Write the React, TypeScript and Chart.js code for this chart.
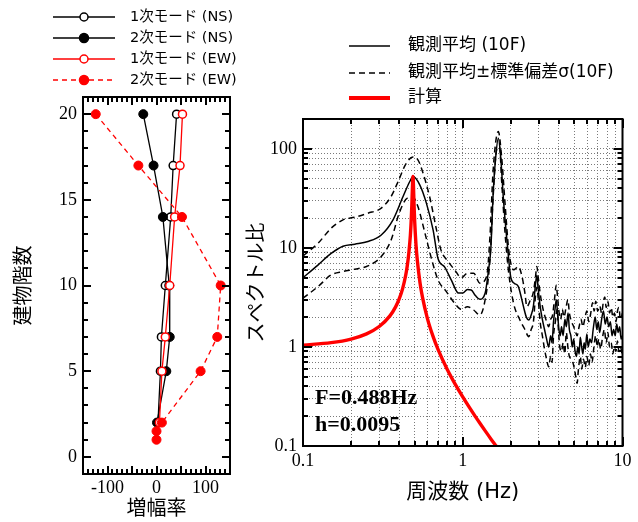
import React, { useEffect, useRef } from 'react';
import { Chart, registerables } from 'chart.js';
Chart.register(...registerables);

const SERIF = '"Liberation Serif", "Times New Roman", serif';
const SANS = '"DejaVu Sans", "Noto Sans CJK JP", sans-serif';
const RED = '#ff0000';

// ---------- left panel: mode shapes ----------
const floors = [20, 17, 14, 10, 7, 5, 2];
const floorsEw2 = [20, 17, 14, 10, 7, 5, 2, 1.5, 1];
const ns1 = [41, 34, 29, 18, 10, 8, 3];
const ns2 = [-27, -6, 13, 26, 27, 20, 1];
const ew1 = [53, 48, 37, 27, 18, 11, 6];
const ew2 = [-124, -37, 52, 131, 124, 90, 11, 0, 0];
const modeNames = ['1次モード (NS)', '2次モード (NS)', '1次モード (EW)', '2次モード (EW)'];
const ampTickLabels = [-100, 0, 100];
const floorTickLabels = [0, 5, 10, 15, 20];

// ---------- right panel: spectral ratio ----------
const meanF = [0.1, 0.124, 0.15, 0.178, 0.211, 0.255, 0.309, 0.366, 0.423, 0.466, 0.488, 0.538, 0.592, 0.652, 0.7, 0.771, 0.85, 0.94, 1.0, 1.07, 1.13, 1.2, 1.28, 1.38, 1.45, 1.5, 1.55, 1.6, 1.67, 1.73, 1.8, 1.91, 2.0, 2.1, 2.23, 2.3, 2.4, 2.5, 2.59, 2.68, 2.77, 2.85, 2.91, 2.96, 3.05, 3.15, 3.25, 3.35, 3.45, 3.55, 3.62, 3.7, 3.78, 3.85, 3.92, 4.0, 4.08, 4.15, 4.25, 4.36, 4.45, 4.56, 4.65, 4.75, 4.85, 4.95, 5.05, 5.15, 5.25, 5.35, 5.44, 5.55, 5.65, 5.75, 5.85, 5.98, 6.1, 6.25, 6.4, 6.55, 6.75, 6.9, 7.05, 7.2, 7.4, 7.6, 7.8, 8.0, 8.2, 8.4, 8.6, 8.8, 9.0, 9.2, 9.4, 9.6, 9.8, 10];
const meanV = [5.0, 6.7, 8.8, 10.4, 10.9, 11.6, 13.5, 19.2, 33, 46.8, 52.5, 43.3, 28.3, 15.2, 7.8, 6.4, 4.7, 3.5, 3.5, 3.8, 3.76, 3.3, 3.03, 3.48, 6, 10, 35, 75, 128, 80, 30, 10, 5.0, 4.4, 4.06, 3.4, 2.55, 2.0, 1.87, 2.1, 2.6, 4.2, 5.3, 4.0, 2.6, 1.9, 1.5, 1.2, 1.0, 1.3, 1.1, 1.8, 2.4, 3.0, 2.2, 1.5, 1.3, 1.6, 1.3, 1.9, 1.6, 2.2, 1.5, 1.3, 1.0, 1.2, 0.9, 0.8, 1.0, 0.85, 1.25, 1.0, 0.85, 1.1, 0.95, 1.35, 1.0, 1.2, 1.1, 1.5, 2.0, 1.5, 1.8, 1.4, 1.9, 2.3, 1.7, 2.0, 1.6, 1.8, 1.3, 1.5, 1.3, 1.7, 1.4, 1.6, 1.2, 1.3];

const upperF = [0.1, 0.124, 0.15, 0.178, 0.211, 0.255, 0.309, 0.356, 0.39, 0.44, 0.488, 0.524, 0.56, 0.62, 0.685, 0.73, 0.81, 0.89, 0.98, 1.07, 1.17, 1.28, 1.41, 1.48, 1.55, 1.67, 1.75, 1.84, 1.94, 2.08, 2.23, 2.35, 2.45, 2.52, 2.65, 2.77, 2.85, 2.91, 2.97, 3.05, 3.15, 3.25, 3.35, 3.45, 3.55, 3.65, 3.75, 3.85, 3.92, 4.0, 4.1, 4.2, 4.3, 4.45, 4.55, 4.65, 4.8, 4.95, 5.1, 5.2, 5.35, 5.5, 5.65, 5.8, 5.98, 6.15, 6.3, 6.5, 6.65, 6.8, 7.0, 7.2, 7.4, 7.6, 7.75, 7.9, 8.1, 8.3, 8.5, 8.7, 8.9, 9.1, 9.3, 9.5, 9.7, 10];
const upperV = [8.3, 11.1, 15.8, 19.2, 20.4, 22.4, 25.2, 33, 45, 70, 82.5, 77.4, 59, 33, 15.2, 9.55, 7.27, 6.0, 5.0, 5.55, 5.55, 4.4, 5.13, 13, 61, 150, 84, 28, 9.55, 6.0, 6.47, 5.13, 3.5, 2.55, 2.98, 3.6, 5.0, 6.5, 5.0, 3.5, 2.6, 2.1, 1.8, 1.6, 1.9, 2.1, 3.0, 4.2, 3.2, 2.3, 1.9, 2.4, 2.0, 2.6, 3.0, 2.2, 1.8, 1.6, 1.4, 1.3, 1.6, 1.9, 1.6, 1.9, 2.3, 1.8, 2.1, 2.8, 2.3, 2.9, 2.3, 2.6, 2.2, 2.9, 3.2, 2.5, 2.9, 2.2, 2.5, 2.0, 2.2, 1.8, 2.3, 2.5, 1.9, 2.2];

const lowerF = [0.1, 0.124, 0.15, 0.178, 0.211, 0.255, 0.309, 0.356, 0.4, 0.45, 0.488, 0.524, 0.58, 0.64, 0.7, 0.79, 0.89, 0.98, 1.07, 1.17, 1.28, 1.38, 1.48, 1.55, 1.63, 1.7, 1.75, 1.84, 1.94, 2.08, 2.28, 2.45, 2.59, 2.68, 2.77, 2.85, 2.91, 2.97, 3.05, 3.15, 3.25, 3.35, 3.45, 3.55, 3.62, 3.7, 3.8, 3.9, 3.97, 4.05, 4.15, 4.25, 4.35, 4.45, 4.55, 4.65, 4.8, 4.95, 5.05, 5.2, 5.3, 5.45, 5.55, 5.7, 5.85, 5.98, 6.15, 6.3, 6.45, 6.6, 6.8, 6.95, 7.1, 7.3, 7.5, 7.7, 7.9, 8.1, 8.3, 8.5, 8.7, 8.9, 9.1, 9.3, 9.5, 9.7, 10];
const lowerV = [3.1, 4.06, 5.34, 5.77, 6.1, 6.58, 8.17, 12, 22.4, 31.8, 32.5, 26.1, 14.1, 7.57, 4.75, 3.62, 2.76, 2.4, 2.55, 2.36, 2.1, 2.98, 7.57, 33, 98, 105, 48.5, 14.1, 5.55, 2.76, 1.87, 1.5, 1.27, 1.5, 1.8, 3.2, 4.0, 3.0, 1.8, 1.3, 0.95, 0.75, 0.63, 0.8, 0.7, 1.3, 1.8, 2.4, 1.5, 1.0, 0.9, 1.1, 0.85, 1.4, 1.0, 0.8, 0.75, 0.65, 0.55, 0.43, 0.6, 0.8, 0.6, 0.75, 0.62, 0.8, 0.65, 0.85, 0.7, 0.95, 1.3, 1.0, 1.2, 0.95, 1.25, 1.5, 1.1, 1.4, 1.0, 1.1, 0.85, 1.0, 0.9, 1.15, 0.9, 1.0, 0.8];

const calcF = [0.1, 0.15, 0.2, 0.25, 0.3, 0.35, 0.38, 0.4, 0.42, 0.44, 0.45, 0.46, 0.47, 0.475, 0.48, 0.485, 0.488, 0.491, 0.495, 0.5, 0.51, 0.52, 0.54, 0.56, 0.6, 0.65, 0.7, 0.8, 0.9, 1.0, 1.1, 1.2, 1.3, 1.4, 1.5, 1.62];
const calcV = [1.044, 1.104, 1.202, 1.356, 1.607, 2.06, 2.54, 3.05, 3.86, 5.35, 6.68, 8.97, 13.4, 18.0, 26.7, 44.4, 52.6, 44.3, 28.8, 18.7, 10.6, 7.38, 4.45, 3.16, 1.954, 1.292, 0.945, 0.593, 0.4165, 0.3126, 0.245, 0.198, 0.164, 0.138, 0.118, 0.0998];

const specNames = ['観測平均 (10F)', '観測平均±標準偏差σ(10F)', '計算'];
const freqTickLabels = [0.1, 1, 10];
const ratioTickLabels = [0.1, 1, 10, 100];
const noteLines = ['F=0.488Hz', 'h=0.0095'];

// ---------- helpers ----------
const pts = (xs: number[], ys: number[]) => xs.map((x, i) => ({ x, y: ys[i] }));
const near = (v: number, list: number[]) => list.some((l) => Math.abs(v - l) < 1e-9 * Math.max(1, Math.abs(l)));
const linTicks = (a: number, b: number, s: number) => {
  const out: number[] = [];
  for (let v = a; v <= b + 1e-9; v += s) out.push(Math.round(v * 1000) / 1000);
  return out;
};
const logTicks = (a: number, b: number) => {
  const out: number[] = [];
  for (let e = -3; e <= 4; e++) {
    for (let m = 1; m <= 9; m++) {
      const v = parseFloat((m * Math.pow(10, e)).toPrecision(6));
      if (v >= a - 1e-12 && v <= b + 1e-9) out.push(v);
    }
  }
  return out;
};
const isPow10 = (v: number) => Math.abs(Math.log10(v) - Math.round(Math.log10(v))) < 1e-6;

function framePlugin(id: string, xVals: number[], yVals: number[], majX: (v: number) => boolean, majY: (v: number) => boolean, majLen: number, minLen: number) {
  return {
    id,
    afterDraw(chart: any) {
      const ctx = chart.ctx;
      const a = chart.chartArea;
      const xs = chart.scales.x;
      const ys = chart.scales.y;
      ctx.save();
      ctx.strokeStyle = '#000000';
      ctx.lineWidth = 2;
      ctx.setLineDash([]);
      for (const v of xVals) {
        const p = Math.round(xs.getPixelForValue(v));
        const L = majX(v) ? majLen : minLen;
        ctx.beginPath();
        ctx.moveTo(p, a.bottom);
        ctx.lineTo(p, a.bottom - L);
        ctx.moveTo(p, a.top);
        ctx.lineTo(p, a.top + L);
        ctx.stroke();
      }
      for (const v of yVals) {
        const p = Math.round(ys.getPixelForValue(v));
        const L = majY(v) ? majLen : minLen;
        ctx.beginPath();
        ctx.moveTo(a.left, p);
        ctx.lineTo(a.left + L, p);
        ctx.moveTo(a.right, p);
        ctx.lineTo(a.right - L, p);
        ctx.stroke();
      }
      ctx.lineWidth = 2;
      ctx.strokeRect(a.left, a.top, a.right - a.left, a.bottom - a.top);
      ctx.restore();
    },
  };
}

const leftLegend = {
  id: 'leftLegend',
  afterDraw(chart: any) {
    const ctx = chart.ctx;
    const rows = [17, 38, 59, 80];
    const styles = [
      { c: '#000', dash: [] as number[], fill: false },
      { c: '#000', dash: [] as number[], fill: true },
      { c: RED, dash: [] as number[], fill: false },
      { c: RED, dash: [5, 4], fill: true },
    ];
    ctx.save();
    rows.forEach((y, i) => {
      const s = styles[i];
      ctx.strokeStyle = s.c;
      ctx.lineWidth = 1.4;
      ctx.setLineDash(s.dash);
      ctx.beginPath();
      ctx.moveTo(53, y);
      ctx.lineTo(115, y);
      ctx.stroke();
      ctx.setLineDash([]);
      ctx.beginPath();
      ctx.arc(84, y, s.fill ? 4.5 : 4, 0, Math.PI * 2);
      ctx.fillStyle = s.fill ? s.c : '#fff';
      ctx.fill();
      ctx.lineWidth = 1.5;
      ctx.stroke();
      ctx.fillStyle = '#000';
      ctx.font = `14.5px ${SANS}`;
      ctx.textBaseline = 'middle';
      ctx.textAlign = 'left';
      ctx.fillText(modeNames[i], 130, y);
    });
    ctx.restore();
  },
};

const rightLegend = {
  id: 'rightLegend',
  afterDraw(chart: any) {
    const ctx = chart.ctx;
    const rows = [46, 73, 98];
    const styles = [
      { c: '#000', dash: [] as number[], w: 1.7 },
      { c: '#000', dash: [6, 4], w: 1.7 },
      { c: RED, dash: [] as number[], w: 4 },
    ];
    ctx.save();
    rows.forEach((y, i) => {
      const s = styles[i];
      ctx.strokeStyle = s.c;
      ctx.lineWidth = s.w;
      ctx.setLineDash(s.dash);
      ctx.beginPath();
      ctx.moveTo(109, y);
      ctx.lineTo(150, y);
      ctx.stroke();
      ctx.fillStyle = '#000';
      ctx.font = `17px ${SANS}`;
      ctx.textBaseline = 'middle';
      ctx.textAlign = 'left';
      ctx.fillText(specNames[i], 168, y);
    });
    ctx.setLineDash([]);
    ctx.font = `bold 22px ${SERIF}`;
    ctx.textBaseline = 'alphabetic';
    ctx.fillText(noteLines[0], 75, 404);
    ctx.fillText(noteLines[1], 75, 431);
    ctx.restore();
  },
};

const leftXTicks = linTicks(-150, 150, 10);
const leftYTicks = linTicks(-1, 21, 1);
const rightXTicks = logTicks(0.1, 10);
const rightYTicks = logTicks(0.1, 200);

function leftConfig(): any {
  const open = (data: any, color: string, order: number, label: string) => ({
    label, data, showLine: true, borderColor: color, borderWidth: 1.3, pointRadius: 4,
    pointBorderWidth: 1.5, pointBackgroundColor: '#fff', pointBorderColor: color, order,
  });
  const filled = (data: any, color: string, order: number, label: string, dash: number[]) => ({
    label, data, showLine: true, borderColor: color, borderWidth: 1.3, borderDash: dash, pointRadius: 4.5,
    pointBorderWidth: 1, pointBackgroundColor: color, pointBorderColor: color, order,
  });
  return {
    type: 'scatter',
    data: {
      datasets: [
        open(pts(ns1, floors), '#000', 3, modeNames[0]),
        filled(pts(ns2, floors), '#000', 2, modeNames[1], []),
        open(pts(ew1, floors), RED, 1, modeNames[2]),
        filled(pts(ew2, floorsEw2), RED, 0, modeNames[3], [5, 4]),
      ],
    },
    options: {
      responsive: false,
      animation: false,
      layout: { padding: { left: 0, top: 97, right: 15, bottom: 0 } },
      plugins: { legend: { display: false }, tooltip: { enabled: false } },
      scales: {
        x: {
          type: 'linear', min: -150, max: 150,
          afterBuildTicks: (s: any) => { s.ticks = leftXTicks.map((value) => ({ value })); },
          ticks: {
            autoSkip: false, maxRotation: 0, padding: 3, color: '#000',
            font: { family: SERIF, size: 18 },
            callback: (v: number) => (near(v, ampTickLabels) ? String(v) : ''),
          },
          grid: { display: false, drawTicks: false },
          border: { display: false },
          title: { display: true, text: '増幅率', color: '#000', font: { family: SANS, size: 20 }, padding: { top: 0, bottom: 0 } },
          afterFit: (s: any) => { s.height = 48; },
        },
        y: {
          type: 'linear', min: -1, max: 21,
          afterBuildTicks: (s: any) => { s.ticks = leftYTicks.map((value) => ({ value })); },
          ticks: {
            autoSkip: false, padding: 6, color: '#000',
            font: { family: SERIF, size: 18 },
            callback: (v: number) => (near(v, floorTickLabels) ? String(v) : ''),
          },
          grid: { display: false, drawTicks: false },
          border: { display: false },
          title: { display: true, text: '建物階数', color: '#000', font: { family: SANS, size: 20 }, padding: { top: 13, bottom: 0 } },
          afterFit: (s: any) => { s.width = 83; },
        },
      },
    },
    plugins: [framePlugin('leftFrame', leftXTicks, leftYTicks, (v) => v % 50 === 0, (v) => v % 5 === 0, 8, 5), leftLegend],
  };
}

function rightConfig(): any {
  const line = (data: any, color: string, width: number, dash: number[], order: number, label: string) => ({
    label, data, borderColor: color, borderWidth: width, borderDash: dash, pointRadius: 0,
    cubicInterpolationMode: 'monotone', fill: false, order,
  });
  return {
    type: 'line',
    data: {
      datasets: [
        line(pts(calcF, calcV), RED, 3.4, [], 0, specNames[2]),
        line(pts(meanF, meanV), '#000', 1.5, [], 1, specNames[0]),
        line(pts(upperF, upperV), '#000', 1.5, [6, 4], 2, specNames[1]),
        line(pts(lowerF, lowerV), '#000', 1.5, [6, 4], 3, specNames[1]),
      ],
    },
    options: {
      responsive: false,
      animation: false,
      layout: { padding: { left: 0, top: 119, right: 15.5, bottom: 0 } },
      plugins: { legend: { display: false }, tooltip: { enabled: false } },
      scales: {
        x: {
          type: 'logarithmic', min: 0.1, max: 10,
          afterBuildTicks: (s: any) => { s.ticks = rightXTicks.map((value) => ({ value })); },
          ticks: {
            autoSkip: false, maxRotation: 0, padding: 4, color: '#000',
            font: { family: SERIF, size: 18 },
            callback: (v: number) => (near(v, freqTickLabels) ? String(v) : ''),
          },
          grid: { display: true, drawTicks: false, color: '#7a7a7a', lineWidth: 1 },
          border: { display: false, dash: [1, 2] },
          title: { display: true, text: '周波数 (Hz)', color: '#000', font: { family: SANS, size: 21 }, padding: { top: 0, bottom: 17 } },
          afterFit: (s: any) => { s.height = 76; },
        },
        y: {
          type: 'logarithmic', min: 0.1, max: 200,
          afterBuildTicks: (s: any) => { s.ticks = rightYTicks.map((value) => ({ value })); },
          ticks: {
            autoSkip: false, padding: 6, color: '#000',
            font: { family: SERIF, size: 18 },
            callback: (v: number) => (near(v, ratioTickLabels) ? String(v) : ''),
          },
          grid: { display: true, drawTicks: false, color: '#7a7a7a', lineWidth: 1 },
          border: { display: false, dash: [1, 2] },
          title: { display: true, text: 'スペクトル比', color: '#000', font: { family: SANS, size: 20 }, padding: { top: 6, bottom: 0 } },
          afterFit: (s: any) => { s.width = 63; },
        },
      },
    },
    plugins: [framePlugin('rightFrame', rightXTicks, rightYTicks, isPow10, isPow10, 9, 5), rightLegend],
  };
}

export default function App() {
  const leftRef = useRef<HTMLCanvasElement>(null);
  const rightRef = useRef<HTMLCanvasElement>(null);
  useEffect(() => {
    const c1 = new Chart(leftRef.current as HTMLCanvasElement, leftConfig());
    const c2 = new Chart(rightRef.current as HTMLCanvasElement, rightConfig());
    return () => {
      c1.destroy();
      c2.destroy();
    };
  }, []);
  return (
    <div style={{ position: 'absolute', left: 0, top: 0, width: 638, height: 522, background: '#fff', overflow: 'hidden' }}>
      <canvas ref={leftRef} width={245} height={522} style={{ position: 'absolute', left: 0, top: 0 }} />
      <canvas ref={rightRef} width={398} height={522} style={{ position: 'absolute', left: 240, top: 0 }} />
    </div>
  );
}
